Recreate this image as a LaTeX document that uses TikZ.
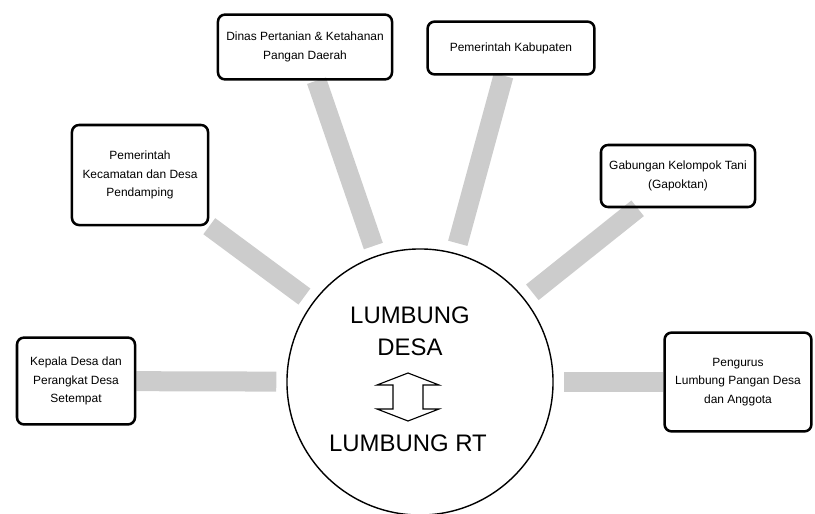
\documentclass[tikz,border=0pt]{standalone}
\usepackage{fontspec}
\setmainfont{Liberation Sans}
\usetikzlibrary{positioning,backgrounds}

\begin{document}
\begin{tikzpicture}[x=0.025cm, y=-0.025cm, node distance=0.2cm,
    box/.style={draw, rectangle, rounded corners=5pt, line width=1.8pt, align=center,
      font=\fontsize{8.5}{13}\selectfont, inner sep=3pt},
    bar/.style={draw=gray!40, line width=0.5cm, shorten >=0.25cm},
    hub/.style={circle, draw, line width=1pt, minimum size=6.65cm},
    big/.style={align=center, font=\fontsize{17}{22.5}\selectfont}]
  \useasboundingbox (0,0) rectangle (815,513);
  \node[hub] (lumbung) at (420,382) {};
  \node[box, minimum width=4.35cm, minimum height=1.62cm] (dinas) at (305,47) {Dinas Pertanian \& Ketahanan\\Pangan Daerah};
  \node[box, minimum width=4.17cm, minimum height=1.32cm] (pemda) at (511,48) {Pemerintah Kabupaten};
  \node[box, minimum width=3.4cm, minimum height=2.5cm] (camat) at (140,175) {Pemerintah\\Kecamatan dan Desa\\Pendamping};
  \node[box, minimum width=3.85cm, minimum height=1.55cm] (gapoktan) at (678,176) {Gabungan Kelompok Tani\\(Gapoktan)};
  \node[box, minimum width=2.95cm, minimum height=2.17cm] (aparat) at (76,381) {Kepala Desa dan\\Perangkat Desa\\Setempat};
  \node[box, minimum width=3.67cm, minimum height=2.47cm] (pengurus) at (738,382) {Pengurus\\Lumbung Pangan Desa\\dan Anggota};

  % bars to the centre
  \begin{scope}[on background layer]
    \foreach \b in {dinas,pemda,camat,gapoktan,aparat,pengurus}
      \draw[bar] (\b) -- (lumbung);
  \end{scope}

  \node[big] (desa) at (410,331) {LUMBUNG\\DESA};
  \coordinate (swap) at (408,397);
  \draw[line width=0.8pt, shift={(swap)}] (0,-24) -- (31,-12) -- (15,-12) -- (15,12) -- (31,12)
    -- (0,24) -- (-31,12) -- (-15,12) -- (-15,-12) -- (-31,-12) -- cycle;
  \node[big] (rt) at (408,443) {LUMBUNG RT};
\end{tikzpicture}
\end{document}
